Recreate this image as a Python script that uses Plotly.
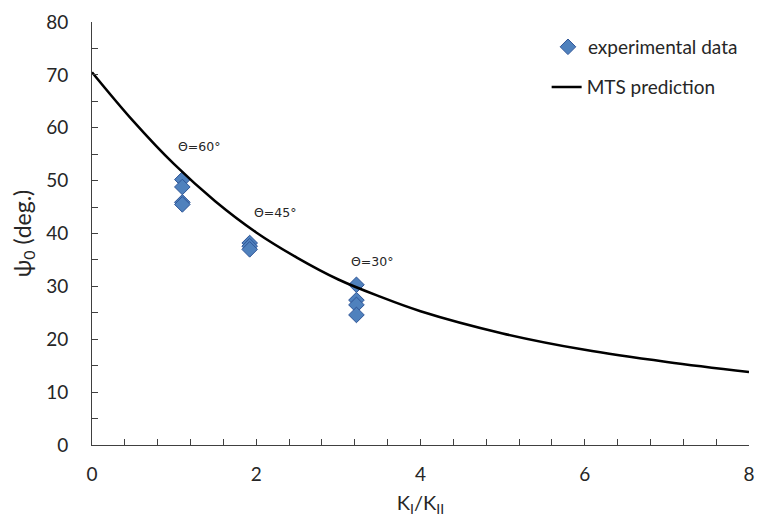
import plotly.graph_objects as go

# MTS prediction curve
mts_x = [0, 0.5, 1, 1.5, 2, 2.5, 3, 3.5, 4, 5, 6, 7, 8]
mts_y = [70.5, 61.3, 53.1, 46.1, 40.2, 35.4, 31.3, 28.1, 25.3, 21.1, 18.0, 15.7, 13.8]

# experimental data
exp_x = [1.1, 1.1, 1.1, 1.1, 1.92, 1.92, 1.92, 3.22, 3.22, 3.22, 3.22]
exp_y = [50.2, 48.8, 45.9, 45.5, 38.2, 37.6, 37.0, 30.3, 27.4, 26.5, 24.6]

# annotations
ann_text = ["Θ=60°", "Θ=45°", "Θ=30°"]
ann_x = [1.30, 2.23, 3.41]
ann_y = [56.5, 43.9, 34.8]

FONT = "Lato"
TXT = "#262626"

fig = go.Figure()
fig.add_trace(go.Scatter(
    x=exp_x, y=exp_y, mode="markers", name="experimental data",
    marker=dict(symbol="diamond", size=12, color="#4F81BD",
                line=dict(color="#2F5597", width=1)),
    legend="legend",
))
fig.add_trace(go.Scatter(
    x=mts_x, y=mts_y, mode="lines", name="MTS prediction",
    line=dict(color="black", width=2.5, shape="spline"),
    legend="legend2",
))

for t, x, y in zip(ann_text, ann_x, ann_y):
    fig.add_annotation(x=x, y=y, text=t, showarrow=False,
                       font=dict(family="DejaVu Sans", size=12.5, color=TXT))

axis_common = dict(
    showgrid=False, zeroline=False, showline=True, linecolor="#404040",
    linewidth=1, ticks="inside", ticklen=6, tickcolor="#404040",
    tickfont=dict(family=FONT, size=19, color=TXT),
    automargin=False,
)

fig.update_xaxes(
    range=[0, 8], dtick=2, tick0=0,
    minor=dict(ticks="inside", dtick=0.4, ticklen=6, tickcolor="#404040"),
    title_text="K<sub>I</sub>/K<sub>II</sub>", title_standoff=14,
    title_font=dict(family=FONT, size=20, color=TXT),
    ticklabelstandoff=12,
    **axis_common,
)
fig.update_yaxes(
    range=[0, 80], dtick=10, tick0=0,
    minor=dict(ticks="inside", dtick=5, ticklen=6, tickcolor="#404040"),
    title_text="ψ<sub>0</sub>&nbsp;(deg.)", title_standoff=8,
    title_font=dict(family=FONT, size=23, color=TXT),
    ticklabelstandoff=19,
    **axis_common,
)

legend_common = dict(
    xanchor="left", yanchor="middle",
    font=dict(family=FONT, size=19, color=TXT),
    bgcolor="rgba(0,0,0,0)", itemwidth=30,
)

fig.update_layout(
    width=761, height=517,
    margin=dict(l=92, r=12, t=22, b=72),
    plot_bgcolor="white", paper_bgcolor="white",
    showlegend=True,
    legend=dict(x=0.694, y=0.941, **legend_common),
    legend2=dict(x=0.692, y=0.846, **legend_common),
)

fig.write_html("out.html")
